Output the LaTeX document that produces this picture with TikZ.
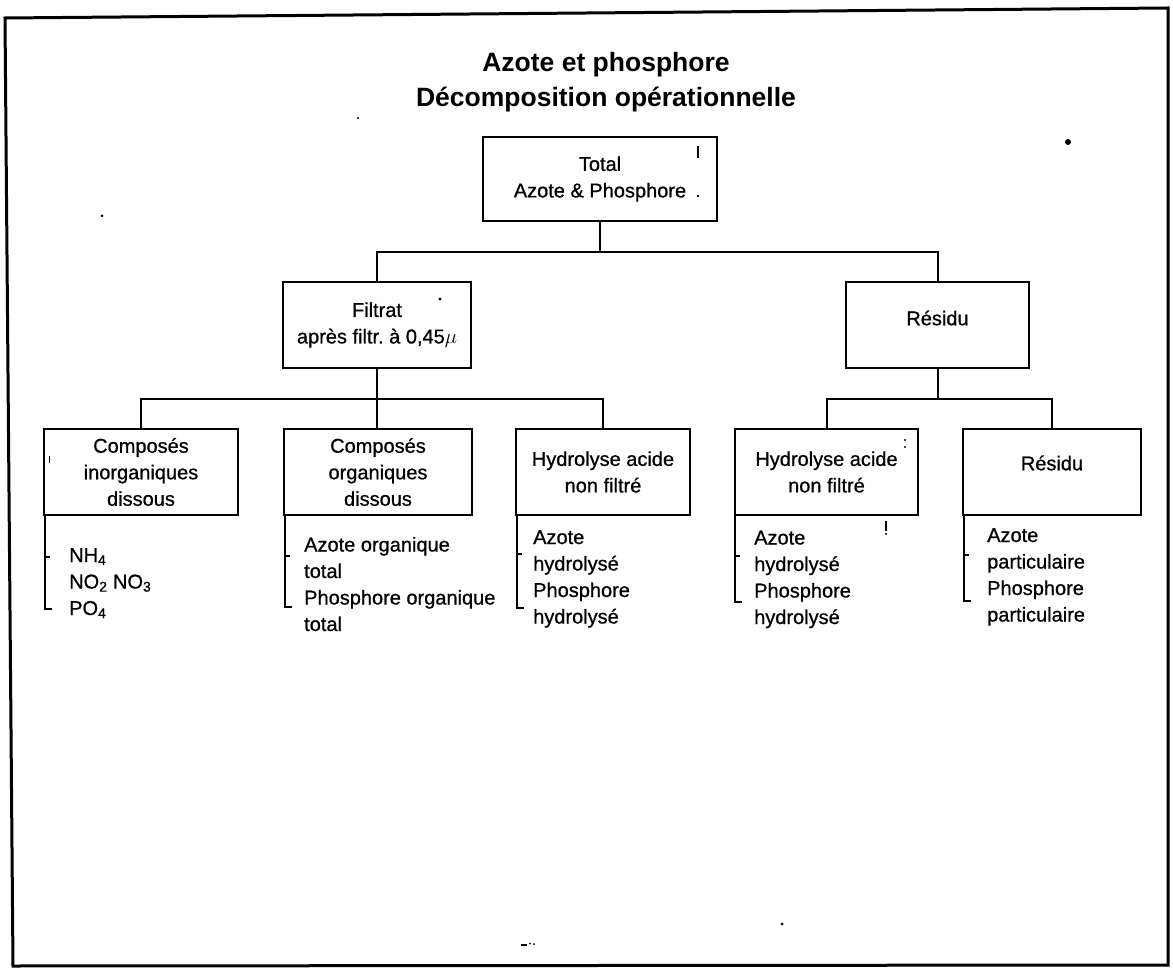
\documentclass[tikz,border=0pt]{standalone}
\usepackage{fontspec}
\setmainfont{Liberation Sans}
\newfontfamily\bodyfont[FakeBold=0.8]{Liberation Sans}
\begin{document}
\begin{tikzpicture}[x=1pt,y=-1pt,
  box/.style={draw, line width=2.4pt, inner sep=0pt, align=center, font=\bodyfont\fontsize{20}{26.5}\selectfont},
  boxlabel/.style={font=\bodyfont\fontsize{20}{26.5}\selectfont, inner sep=0pt},
  conn/.style={line width=2pt},
  lst/.style={anchor=base west, align=left, inner sep=0pt, font=\bodyfont\fontsize{20}{26.5}\selectfont},
  frame/.style={line width=3pt, line join=miter},
  speck/.style={fill=black, draw=none}]
\useasboundingbox (0,0) rectangle (1173,968);
% outer frame
\draw[frame] (5,18) -- (1168,8) -- (1168,965) -- (13,966) -- cycle;
% title (base anchor = baseline of the last line)
\node[font=\fontsize{26.5}{35}\selectfont\bfseries, align=center, anchor=base, inner sep=0pt] (title) at (606,107) {Azote et phosphore\\Décomposition opérationnelle};
% boxes
\node[box, minimum width=234, minimum height=84] (total) at (600,179) {Total\\Azote \& Phosphore};
\node[box, minimum width=188, minimum height=86] (filtrat) at (377,325) {Filtrat\\après filtr.\ à 0,45$\mu$};
\node[box, minimum width=183, minimum height=86, label={[boxlabel, yshift=7pt]center:Résidu}] (residu) at (937.5,325) {};
\node[box, minimum width=194, minimum height=86] (c1) at (141,472) {Composés\\inorganiques\\dissous};
\node[box, minimum width=188, minimum height=86] (c2) at (378,472) {Composés\\organiques\\dissous};
\node[box, minimum width=174, minimum height=86] (h1) at (603,472) {Hydrolyse acide\\non filtré};
\node[box, minimum width=183, minimum height=86] (h2) at (826.5,472) {Hydrolyse acide\\non filtré};
\node[box, minimum width=178, minimum height=86, label={[boxlabel, yshift=9pt]center:Résidu}] (r2) at (1052,472) {};
% connectors
\coordinate (j1) at (601,252);
\coordinate (j2) at (375,399);
\coordinate (j3) at (940,399);
\draw[conn] (total.south) -- (total.south |- j1);
\draw[conn] (filtrat.north) |- (j1) -| (residu.north);
\draw[conn] (filtrat.south) -- (filtrat.south |- c2.north);
\draw[conn] (c1.north) |- (j2) -| (h1.north);
\draw[conn] (residu.south) -- (residu.south |- j3);
\draw[conn] (h2.north) |- (j3) -| (r2.north);
% brackets
\draw[conn] ([xshift=2pt]c1.south west) -- ++(0,93) -- ++(7,0);
\draw[conn] ([xshift=2pt]c1.south west) ++(0,41) -- ++(5,0);
\draw[conn] ([xshift=2pt]c2.south west) -- ++(0,91) -- ++(7,0);
\draw[conn] ([xshift=2pt]c2.south west) ++(0,40) -- ++(5,0);
\draw[conn] ([xshift=2pt]h1.south west) -- ++(0,92) -- ++(7,0);
\draw[conn] ([xshift=2pt]h1.south west) ++(0,38) -- ++(5,0);
\draw[conn] ([xshift=1pt]h2.south west) -- ++(0,86) -- ++(7,0);
\draw[conn] ([xshift=1pt]h2.south west) ++(0,40) -- ++(5,0);
\draw[conn] ([xshift=2pt]r2.south west) -- ++(0,85) -- ++(7,0);
\draw[conn] ([xshift=2pt]r2.south west) ++(0,39) -- ++(5,0);
% lists (base anchor = baseline of the last line)
\node[lst] (l1) at (69,615) {NH\textsubscript{4}\\NO\textsubscript{2} NO\textsubscript{3}\\PO\textsubscript{4}};
\node[lst] (l2) at (304,631) {Azote organique\\total\\Phosphore organique\\total};
\node[lst] (l3) at (533,623.5) {Azote\\hydrolysé\\Phosphore\\hydrolysé};
\node[lst] (l4) at (754,624) {Azote\\hydrolysé\\Phosphore\\hydrolysé};
\node[lst] (l5) at (987,621.5) {Azote\\particulaire\\Phosphore\\particulaire};
% scan specks
\fill[speck] (1068,142) circle (3);
\fill[speck] (102,216) circle (1.5);
\fill[speck] (358,118) circle (1.2);
\fill[speck] (697,146) rectangle (699,158);
\fill[speck] (698,196) circle (1.4);
\fill[speck] (440,299) circle (1.6);
\fill[speck] (48.5,456) rectangle (50,463);
\fill[speck] (905,440) circle (1.2);
\fill[speck] (905,447) circle (1.2);
\fill[speck] (885,521) rectangle (887,531);
\fill[speck] (886,534) circle (1.2);
\fill[speck] (782,924) circle (1.5);
\fill[speck] (521,944) rectangle (527,945.5);
\fill[speck] (530,943.5) circle (1);
\fill[speck] (534,944) circle (1);
\end{tikzpicture}
\end{document}
